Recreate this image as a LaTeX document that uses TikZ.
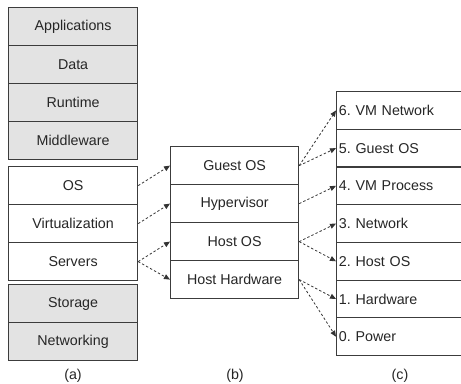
\documentclass[tikz,border=0pt]{standalone}
\usepackage{fontspec}
\setmainfont{Liberation Sans}
\usetikzlibrary{arrows.meta}
\frenchspacing
\definecolor{boxline}{HTML}{3C3C3C}
\definecolor{boxgrey}{HTML}{E3E3E3}
\definecolor{linkline}{HTML}{333333}
\tikzset{
  layer/.style={draw=boxline, line width=0.9pt, anchor=north west,
    minimum height=28.5pt, inner sep=0pt, font=\fontsize{10.7}{12}\selectfont,
    text=black!85},
  layera/.style={layer, minimum width=96.75pt},
  greylayer/.style={layera, fill=boxgrey},
  layerb/.style={layer, minimum width=96pt},
  layerc/.style={layer, minimum width=100.5pt, text width=97pt, align=left,
    inner xsep=1.6pt, minimum height=28.28pt},
  link/.style={draw=linkline, line width=0.6pt, dash pattern=on 1.8pt off 1.6pt,
    -{Triangle[length=4.5pt,width=3.8pt]}},
  caption/.style={font=\fontsize{10.7}{12}\selectfont, text=black!85}
}
\begin{document}
\begin{tikzpicture}[x=0.75pt, y=-0.75pt]
\useasboundingbox (0,0) rectangle (461,383);
\clip (0,0) rectangle (461,383);
\fill[white] (0,0) rectangle (461,383);

% (a) stack
\node[greylayer] (app) at (8,7) {Applications};
\node[greylayer] (data) at (8,45) {Data};
\node[greylayer] (run) at (8,83) {Runtime};
\node[greylayer] (mid) at (8,121) {Middleware};
\node[layera] (aos) at (8,166) {OS};
\node[layera] (virt) at (8,204) {Virtualization};
\node[layera] (serv) at (8,242) {Servers};
\node[greylayer] (stor) at (8,284) {Storage};
\node[greylayer] (net) at (8,322) {Networking};

% (b) stack
\node[layerb] (guest) at (170,146) {Guest OS};
\node[layerb] (hyp) at (170,184) {Hypervisor};
\node[layerb] (host) at (170,222) {Host OS};
\node[layerb] (hw) at (170,260) {Host Hardware};

% (c) stack
\node[layerc] (c6) at (336,91) {6. VM Network};
\node[layerc] (c5) at (336,128.71) {5. Guest OS};
\node[layerc] (c4) at (336,166.42) {4. VM Process};
\node[layerc] (c3) at (336,204.13) {3. Network};
\node[layerc] (c2) at (336,241.84) {2. Host OS};
\node[layerc] (c1) at (336,279.55) {1. Hardware};
\node[layerc] (c0) at (336,317.26) {0. Power};

% captions
\node[caption] (capa) at (73,376) {(a)};
\node[caption] (capb) at (235,376) {(b)};
\node[caption] (capc) at (400,376) {(c)};

% mappings (a) -> (b)
\draw[link] (aos.east) -- (guest.west);
\draw[link] (virt.east) -- (hyp.west);
\draw[link] (serv.east) -- (host.west);
\draw[link] (serv.east) -- (hw.west);

% mappings (b) -> (c)
\draw[link] (guest.east) -- (c6.west);
\draw[link] (guest.east) -- (c5.west);
\draw[link] (hyp.east) -- (c4.west);
\draw[link] (host.east) -- (c3.west);
\draw[link] (host.east) -- (c2.west);
\draw[link] (hw.east) -- (c1.west);
\draw[link] (hw.east) -- (c0.west);
\end{tikzpicture}
\end{document}
